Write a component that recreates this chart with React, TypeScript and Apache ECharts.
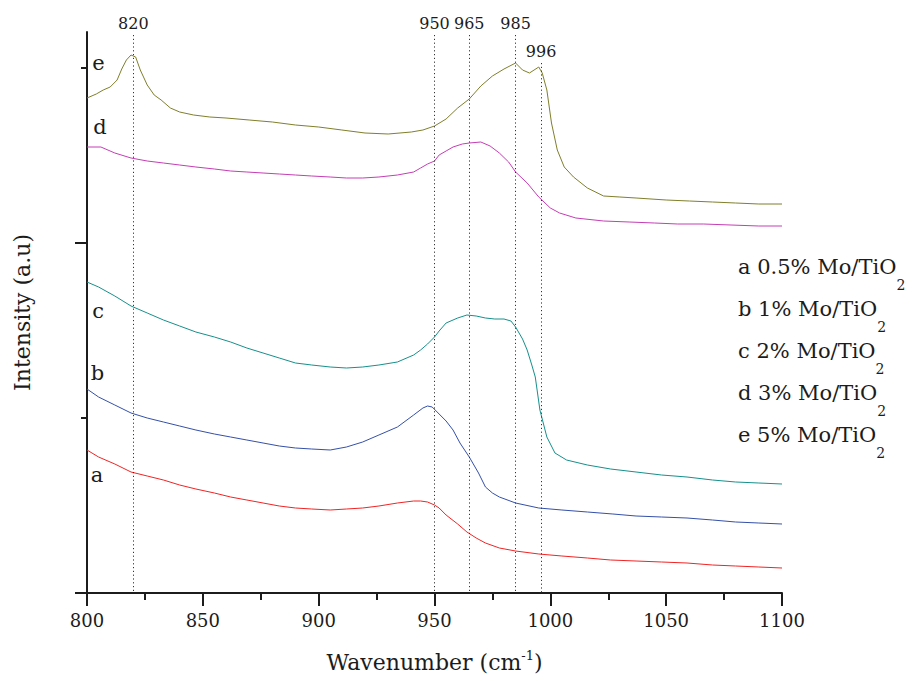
import React, { useEffect, useRef } from "react";
import * as echarts from "echarts";

// Wavenumber (cm-1) vs intensity (arbitrary, offset) for each sample
const seriesA: number[][] = [
  [800, 143], [805, 136], [812, 129], [819, 121], [826, 117], [833, 113], [840, 108], [847, 104],
  [855, 100], [862, 96], [869, 93], [876, 90], [883, 87], [890, 85], [897, 84], [905, 83],
  [912, 84], [919, 85], [926, 87], [934, 90], [941, 92], [944, 92], [947, 91], [950, 88],
  [952, 85], [955, 78], [960, 69], [964, 61], [968, 55], [972, 50], [978, 45], [985, 42],
  [995, 39], [1005, 37], [1016, 35], [1026, 33], [1037, 32], [1048, 31], [1059, 30],
  [1070, 28], [1080, 27], [1090, 26], [1100, 25],
];
const seriesB: number[][] = [
  [800, 204], [805, 196], [812, 188], [819, 180], [826, 175], [833, 171], [840, 167], [847, 163],
  [855, 159], [862, 156], [869, 153], [876, 150], [883, 147], [890, 145], [897, 144], [905, 143],
  [912, 146], [919, 151], [926, 158], [934, 166], [941, 178], [945, 185], [947, 187], [949, 186],
  [952, 179], [955, 172], [958, 163], [961, 150], [965, 136], [969, 120], [972, 106], [975, 100],
  [978, 96], [985, 90], [995, 85], [1005, 83], [1016, 81], [1027, 79], [1037, 77], [1048, 76],
  [1059, 75], [1070, 73], [1080, 71], [1090, 70], [1100, 69],
];
const seriesC: number[][] = [
  [800, 311], [805, 306], [812, 297], [819, 287], [826, 280], [833, 273], [840, 267], [847, 261],
  [855, 256], [862, 251], [869, 245], [876, 240], [883, 235], [890, 230], [897, 228], [905, 226],
  [912, 225], [919, 226], [926, 228], [934, 231], [941, 238], [944, 243], [947, 249], [950, 256],
  [952, 262], [955, 270], [960, 275], [964, 278], [968, 277], [972, 275], [976, 274], [980, 274],
  [983, 272], [985, 266], [988, 254], [990, 243], [992, 228], [993.5, 216], [995.5, 183],
  [998.5, 156], [1002, 140], [1007, 133], [1016, 128], [1026, 124], [1037, 121], [1048, 118],
  [1059, 116], [1070, 113], [1080, 111], [1090, 110], [1100, 109],
];
const seriesD: number[][] = [
  [800, 446], [806, 446], [812, 440], [819, 435], [826, 432], [833, 430], [840, 428], [847, 426],
  [855, 424], [862, 422], [869, 421], [876, 420], [883, 419], [890, 418], [897, 417], [905, 416],
  [912, 415], [919, 415], [926, 416], [934, 418], [941, 421], [944, 425], [947, 429], [950, 432],
  [952, 438], [955, 442], [958, 446], [962, 449], [965, 450], [970, 451], [974, 447], [978, 440],
  [982, 431], [985, 421], [990, 410], [995, 396], [1000, 385], [1004, 380], [1011, 375],
  [1023, 372], [1034, 371], [1045, 370], [1055, 369], [1066, 369], [1078, 368], [1090, 367],
  [1100, 367],
];
const seriesE: number[][] = [
  [800, 495], [804, 499], [807, 503], [810, 506], [813, 513], [815, 524], [817, 533], [819, 538],
  [821, 536], [823, 523], [826, 508], [829, 498], [832, 493], [836, 485], [840, 481], [846, 478],
  [853, 476], [860, 475], [870, 473], [880, 471], [890, 468], [900, 466], [910, 463], [920, 460],
  [930, 459], [940, 461], [945, 463], [950, 467], [955, 474], [960, 485], [965, 494], [970, 507],
  [975, 517], [980, 524], [985, 530], [988, 523], [991, 520], [995, 526], [996.5, 520],
  [998.5, 503], [1000.5, 470], [1003, 443], [1006, 426], [1010, 416], [1016, 405], [1023, 397],
  [1030, 396], [1037, 395], [1050, 393], [1060, 392], [1070, 391], [1080, 390], [1090, 389],
  [1100, 389],
];

const curveKeys = ["a", "b", "c", "d", "e"];
const legendNames = ["0.5% Mo/TiO", "1% Mo/TiO", "2% Mo/TiO", "3% Mo/TiO", "5% Mo/TiO"];
const curveColors = ["#f02424", "#3550a8", "#16908c", "#c43eb4", "#7f7f2c"];
const peakLines = [820, 950, 965, 985, 996];
const peakLineTops = [558, 558, 558, 558, 530];

const FONT = "DejaVu Serif";
const INK = "#1c1c1c";

export default function App() {
  const ref = useRef<HTMLDivElement>(null);

  useEffect(() => {
    if (!ref.current) return;
    const chart = echarts.init(ref.current, null, { renderer: "svg" });
    const allData = [seriesA, seriesB, seriesC, seriesD, seriesE];

    const series: any[] = allData.map((d, i) => ({
      name: curveKeys[i],
      type: "line",
      data: d,
      showSymbol: false,
      symbol: "none",
      lineStyle: { width: 1, color: curveColors[i] },
      itemStyle: { color: curveColors[i] },
      z: 3,
    }));

    series[0].markLine = {
      silent: true,
      symbol: "none",
      lineStyle: { type: [1.2, 2.6], color: "#333", width: 1 },
      label: {
        show: true,
        position: "start",
        formatter: "{b}",
        fontFamily: FONT,
        fontSize: 16,
        color: INK,
        distance: 4,
      },
      data: peakLines.map((p, i) => [
        { name: String(p), coord: [p, peakLineTops[i]] },
        { coord: [p, 0] },
      ]),
    };

    const curveLabelPos = [
      [97, 475], [97.5, 373], [98, 311], [100, 127], [98.5, 63],
    ];
    const graphic: any[] = curveKeys.map((k, i) => ({
      type: "text",
      x: curveLabelPos[i][0],
      y: curveLabelPos[i][1],
      style: {
        text: k,
        fontFamily: FONT,
        fontSize: 21,
        fill: INK,
        align: "center",
        verticalAlign: "middle",
      },
    }));
    legendNames.forEach((n, i) => {
      graphic.push({
        type: "text",
        x: 738,
        y: 267 + i * 42,
        style: {
          text: `{n|${curveKeys[i]} ${n}}{s|2}`,
          fontFamily: FONT,
          fill: INK,
          align: "left",
          verticalAlign: "middle",
          rich: {
            n: { fontFamily: FONT, fontSize: 21, lineHeight: 50, fill: INK },
            s: { fontFamily: FONT, fontSize: 14, lineHeight: 15, verticalAlign: "bottom", fill: INK },
          },
        },
      });
    });

    chart.setOption({
      animation: false,
      backgroundColor: "#ffffff",
      grid: { left: 87, right: 130, top: 32, bottom: 88 },
      xAxis: {
        type: "value",
        min: 800,
        max: 1100,
        interval: 50,
        name: "{t|Wavenumber (cm}{sup|-1}{t|)}",
        nameLocation: "middle",
        nameGap: 56,
        nameTextStyle: {
          fontFamily: FONT,
          fontSize: 22,
          color: INK,
          rich: {
            t: { fontFamily: FONT, fontSize: 22, lineHeight: 26, color: INK },
            sup: { fontFamily: FONT, fontSize: 13, lineHeight: 13, verticalAlign: "top", color: INK },
          },
        },
        axisLine: { show: true, onZero: false, lineStyle: { color: INK, width: 2 } },
        axisTick: { show: true, inside: false, length: 13, lineStyle: { color: INK, width: 2 } },
        minorTick: { show: true, splitNumber: 2, length: 7, lineStyle: { color: INK, width: 2 } },
        axisLabel: {
          fontFamily: FONT,
          fontSize: 18,
          color: INK,
          margin: 18,
          formatter: (v: number) => String(v),
        },
        splitLine: { show: false },
        minorSplitLine: { show: false },
      },
      yAxis: [
        {
          type: "value",
          min: 0,
          max: 561,
          name: "Intensity (a.u)",
          nameLocation: "middle",
          nameGap: 54,
          nameTextStyle: { fontFamily: FONT, fontSize: 22, color: INK },
          axisLine: { show: true, onZero: false, lineStyle: { color: INK, width: 2 } },
          axisTick: { show: true, inside: false, length: 12, customValues: [0, 350], lineStyle: { color: INK, width: 2 } },
          axisLabel: { show: false },
          splitLine: { show: false },
        },
        {
          type: "value",
          min: 0,
          max: 561,
          position: "left",
          axisLine: { show: false },
          axisTick: { show: true, inside: false, length: 6, customValues: [175, 525], lineStyle: { color: INK, width: 2 } },
          axisLabel: { show: false },
          splitLine: { show: false },
        },
      ],
      series,
      graphic,
    });

    return () => chart.dispose();
  }, []);

  return (
    <div
      ref={ref}
      style={{ position: "absolute", left: 0, top: 0, width: 912, height: 681, background: "#fff" }}
    />
  );
}
